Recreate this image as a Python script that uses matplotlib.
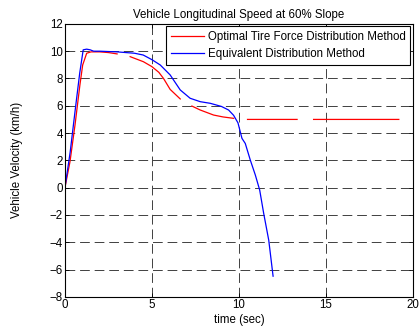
import numpy as np
import matplotlib.pyplot as plt

plt.rcParams['font.family'] = ['Liberation Sans', 'DejaVu Sans']

# 等效分配方法 (blue)
t_eq = [0.0, 0.3, 0.6, 0.85, 1.05, 1.25, 1.45, 1.65, 2.0, 3.0, 4.0, 4.5, 5.0,
        5.48, 6.05, 6.63, 7.2, 7.78, 8.36, 9.0, 9.41, 9.7, 9.95, 10.18, 10.37,
        10.66, 10.95, 11.2, 11.43, 11.72, 11.97]
v_eq = [0.0, 2.6, 5.8, 8.4, 10.1, 10.15, 10.1, 10.0, 10.0, 9.95, 9.85, 9.72, 9.38,
        8.99, 8.26, 7.16, 6.55, 6.3, 6.18, 5.95, 5.69, 5.3, 4.75, 3.61, 3.24,
        2.02, 0.92, -0.18, -1.89, -3.85, -6.49]

# 最优轮胎力分配方法 (red), NaN = gaps seen in the line
t_opt = [0.0, 0.29, 0.58, 0.86, 1.02, 1.25, 1.5, 2.0, 2.5, 3.0, np.nan,
         3.75, 4.51, 5.0, 5.4, 5.67, 6.05, 6.63, np.nan,
         7.3, 7.78, 8.55, 9.1, 9.7, np.nan,
         10.5, 13.35, np.nan, 14.3, 19.2]
v_opt = [0.0, 1.9, 4.6, 7.52, 8.99, 9.85, 9.95, 9.95, 9.9, 9.8, np.nan,
         9.6, 9.23, 8.87, 8.45, 8.0, 7.2, 6.5, np.nan,
         5.98, 5.69, 5.32, 5.18, 5.08, np.nan,
         5.0, 5.0, np.nan, 5.0, 5.0]

x_ticks = [0, 5, 10, 15, 20]
y_ticks = [-8, -6, -4, -2, 0, 2, 4, 6, 8, 10, 12]

fs = 8.3

fig = plt.figure(figsize=(4.19, 3.32), dpi=100)
ax = fig.add_axes([0.155, 0.106, 0.83, 0.822])

ax.plot(t_opt, v_opt, color='#ff0000', linewidth=0.9,
        label='Optimal Tire Force Distribution Method')
ax.plot(t_eq, v_eq, color='#0000ff', linewidth=0.9,
        label='Equivalent Distribution Method')

ax.set_xlim(0, 20)
ax.set_ylim(-8, 12)
ax.set_xticks(x_ticks)
ax.set_yticks(y_ticks)
ax.tick_params(direction='in', labelsize=fs, top=True, right=True,
               length=3, width=0.6, pad=1.5)
ax.grid(True, color='0.25', linestyle=(0, (10, 5)), linewidth=0.7)
for s in ax.spines.values():
    s.set_linewidth(0.8)

ax.set_title('Vehicle Longitudinal Speed at 60% Slope', fontsize=fs, pad=4)
ax.set_xlabel('time (sec)', fontsize=fs, labelpad=2)
ax.set_ylabel('Vehicle Velocity (km/h)', fontsize=fs, labelpad=19)

leg = ax.legend(loc='upper right', fontsize=fs, fancybox=False,
                framealpha=1, edgecolor='black', borderpad=0.4,
                handlelength=2.9, handletextpad=0.3, labelspacing=0.45,
                borderaxespad=0.2)
leg.get_frame().set_linewidth(0.8)

fig.savefig('out.png', dpi=100)
